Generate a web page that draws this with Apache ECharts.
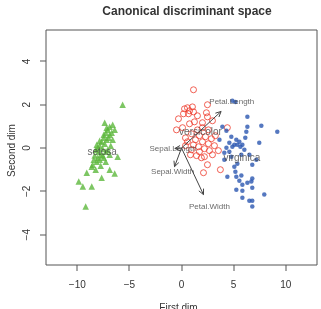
<!DOCTYPE html>
<html>
<head>
<meta charset="utf-8">
<script src="https://cdn.jsdelivr.net/npm/echarts@6/dist/echarts.min.js"></script>
<style>
  html, body { margin: 0; padding: 0; background: #fff; }
  #chart { width: 321px; height: 309px; }
</style>
</head>
<body>
<div id="chart"></div>
<script>
// canonical scores
const setosa = [
  [-5.65, 2.00], [-7.37, 1.17], [-6.60, 1.07], [-6.89, 0.98], [-6.12, -0.40],
  [-8.61, -0.86], [-9.09, -1.14], [-6.89, -1.00], [-6.41, -1.18], [-7.66, -1.37],
  [-9.86, -1.55], [-9.47, -1.78], [-8.61, -1.78], [-9.19, -2.70], [-7.08, 0.84],
  [-7.27, 0.71], [-6.89, 0.61], [-7.46, 0.47], [-7.18, 0.38], [-7.66, 0.29],
  [-7.37, 0.20], [-7.85, 0.11], [-8.04, 0.01], [-7.56, -0.03], [-8.23, -0.08],
  [-7.94, -0.17], [-7.75, -0.31], [-8.33, -0.35], [-8.04, -0.45], [-8.42, -0.54],
  [-8.13, -0.63], [-7.85, -0.54], [-7.46, -0.45], [-7.08, -0.08], [-6.79, 0.11],
  [-6.60, 0.38], [-6.99, 0.47], [-6.70, 0.71], [-6.41, 0.84], [-7.85, 0.34],
  [-8.13, 0.15], [-7.27, -0.17], [-8.52, -0.77], [-7.75, -0.82], [-8.23, -1.00],
  [-7.27, -0.63], [-6.89, -0.31], [-7.46, 0.61], [-7.18, 0.94], [-7.56, -0.35]
];
const versicolor = [
  [1.15, 2.69], [0.57, 1.86], [1.05, 1.90], [0.29, 1.81], [0.77, 1.72],
  [1.15, 1.67], [0.19, 1.58], [0.67, 1.58], [2.49, 2.00], [2.39, 1.63],
  [2.49, 1.44], [-0.29, 1.35], [1.24, 1.21], [2.01, 1.17], [0.77, 1.12],
  [-0.48, 0.84], [4.40, 0.94], [2.01, 0.94], [1.53, 0.84], [2.58, 0.84],
  [0.96, 0.66], [1.72, 0.57], [2.30, 0.52], [2.87, 0.43], [1.34, 0.38],
  [2.01, 0.29], [0.57, 0.29], [2.58, 0.20], [1.15, 0.15], [1.63, 0.06],
  [3.16, 0.11], [0.38, 0.11], [2.20, -0.03], [2.68, -0.12], [3.54, -0.12],
  [0.96, -0.08], [1.72, -0.17], [2.97, -0.31], [1.44, -0.35], [2.20, -0.40],
  [1.91, -0.45], [2.49, -0.77], [3.73, -1.00], [2.11, -1.14], [0.38, 0.47],
  [2.97, 1.26], [1.53, 1.49], [3.25, 0.57], [0.86, -0.31], [0.10, 0.94]
];
const virginica = [
  [4.88, 2.18], [5.17, 2.13], [6.32, 1.44], [7.66, 1.03], [9.19, 0.75],
  [6.32, 0.98], [6.22, 0.75], [3.92, 0.98], [4.78, 0.52], [5.26, 0.38],
  [5.55, 0.29], [5.36, 0.15], [5.84, 0.15], [5.07, 0.15], [7.46, 0.24],
  [4.59, 0.24], [4.31, 0.01], [4.88, 0.06], [5.65, 0.06], [4.11, -0.22],
  [4.78, -0.40], [4.11, -0.54], [5.74, -0.31], [6.51, -0.31], [7.18, -0.54],
  [5.07, -0.86], [5.36, -0.72], [6.79, -0.77], [4.40, -1.32], [5.26, -1.32],
  [5.74, -1.27], [5.55, -1.51], [5.84, -1.69], [6.32, -1.60], [6.70, -1.55],
  [6.79, -1.83], [6.79, -1.41], [5.26, -1.92], [5.84, -1.97], [7.94, -2.15],
  [5.84, -2.29], [6.51, -2.43], [6.79, -2.43], [6.79, -2.70], [3.64, 0.38],
  [6.03, -0.08], [4.59, -0.17], [6.12, 0.47], [5.17, -1.09], [4.31, 0.80]
];

// variable vectors (arrows from origin)
const vectorNames = ['Sepal.Length', 'Sepal.Width', 'Petal.Length', 'Petal.Width'];
const vectorX = [-0.64, -0.67, 3.80, 2.11];
const vectorY = [-0.02, -0.86, 1.69, -2.15];
const labelScale = 1.27;

// group centroids / labels
const groupNames = ['setosa', 'versicolor', 'virginica'];
const groupX = [-7.61, 1.82, 5.79];
const groupY = [-0.20, 0.72, -0.49];

const xTicks = [-10, -5, 0, 5, 10];
const yTicks = [-4, -2, 0, 2, 4];
// plot box (R's usr region)
const boxXMin = -13, boxXMax = 13, boxYMin = -5.4, boxYMax = 5.45;

const minus = v => String(v).replace('-', '\u2212');
const font = 'Liberation Sans, Arial, Helvetica, sans-serif';
const axisColor = '#555';

// the grid is widened by the tick length so the outside ticks stay inside it
const tickLen = 6;
const boxW = 271, boxH = 235;
const gridXMin = boxXMin - tickLen * (boxXMax - boxXMin) / boxW;
const gridYMin = boxYMin - tickLen * (boxYMax - boxYMin) / boxH;

const chart = echarts.init(document.getElementById('chart'));

const option = {
  animation: false,
  title: {
    text: 'Canonical discriminant space',
    left: 182,
    top: 1,
    textAlign: 'center',
    textStyle: { fontSize: 12, fontWeight: 'bold', color: '#333', fontFamily: font }
  },
  grid: {
    left: 46 - tickLen, right: 4, top: 30, bottom: 44 - tickLen,
    outerBoundsMode: 'none', containLabel: false, show: false
  },
  xAxis: {
    type: 'value', min: gridXMin, max: boxXMax, position: 'bottom',
    name: 'First dim', nameLocation: 'middle', nameGap: 32,
    nameTextStyle: { fontSize: 10, color: '#333', fontFamily: font },
    axisLine: { show: false, onZero: false },
    splitLine: { show: false },
    axisTick: { show: false },
    axisLabel: { fontSize: 10, color: '#333', margin: 9, fontFamily: font,
      customValues: xTicks, formatter: minus }
  },
  yAxis: {
    type: 'value', min: gridYMin, max: boxYMax, position: 'left',
    name: 'Second dim', nameLocation: 'middle', nameGap: 23, nameMoveOverlap: false,
    nameTextStyle: { fontSize: 10, color: '#333', fontFamily: font },
    axisLine: { show: false, onZero: false },
    splitLine: { show: false },
    axisTick: { show: false },
    axisLabel: { fontSize: 10, color: '#333', margin: 8, rotate: 90, fontFamily: font,
      customValues: yTicks, formatter: minus }
  },
  series: [
    {
      // plot box plus R-style outside tick marks
      type: 'custom', silent: true,
      data: [[boxXMin, boxYMin, boxXMax, boxYMax]],
      renderItem: function (params, api) {
        const a = api.coord([api.value(0), api.value(3)]);
        const b = api.coord([api.value(2), api.value(1)]);
        const children = [{
          type: 'rect',
          shape: { x: a[0], y: a[1], width: b[0] - a[0], height: b[1] - a[1] },
          style: { stroke: axisColor, lineWidth: 1, fill: null }
        }];
        xTicks.forEach(function (v) {
          const p = api.coord([v, api.value(1)]);
          children.push({
            type: 'rect',
            shape: { x: Math.round(p[0]) - 0.5, y: b[1], width: 1, height: tickLen },
            style: { fill: axisColor }
          });
        });
        yTicks.forEach(function (v) {
          const p = api.coord([api.value(0), v]);
          children.push({
            type: 'rect',
            shape: { x: a[0] - tickLen, y: Math.round(p[1]) - 0.5, width: tickLen, height: 1 },
            style: { fill: axisColor }
          });
        });
        return { type: 'group', children: children };
      }
    },
    {
      name: 'setosa', type: 'scatter', data: setosa,
      symbol: 'triangle', symbolSize: 6.5,
      itemStyle: { color: '#5cb83c' }
    },
    {
      name: 'versicolor', type: 'scatter', data: versicolor,
      symbol: 'circle', symbolSize: 6,
      itemStyle: { color: 'rgba(0,0,0,0)', borderColor: '#ee3b2c', borderWidth: 1 }
    },
    {
      name: 'virginica', type: 'scatter', data: virginica,
      symbol: 'circle', symbolSize: 4.5,
      itemStyle: { color: '#2a56b0' }
    },
    {
      // arrows with open heads, like R's arrows()
      type: 'custom',
      data: vectorX.map((x, i) => [x, vectorY[i]]),
      renderItem: function (params, api) {
        const o = api.coord([0, 0]);
        const e = api.coord([api.value(0), api.value(1)]);
        const ang = Math.atan2(e[1] - o[1], e[0] - o[0]);
        const len = 6, spread = 0.45;
        const p1 = [e[0] - len * Math.cos(ang - spread), e[1] - len * Math.sin(ang - spread)];
        const p2 = [e[0] - len * Math.cos(ang + spread), e[1] - len * Math.sin(ang + spread)];
        const style = { stroke: '#444', lineWidth: 1, fill: null };
        return {
          type: 'group',
          children: [
            { type: 'line', shape: { x1: o[0], y1: o[1], x2: e[0], y2: e[1] }, style: style },
            { type: 'polyline', shape: { points: [p1, e, p2] }, style: style }
          ]
        };
      },
      z: 5
    },
    {
      // variable names
      type: 'scatter', symbolSize: 0,
      data: vectorX.map((x, i) => ({ value: [x * labelScale, vectorY[i] * labelScale], name: vectorNames[i] })),
      label: {
        show: true, position: 'inside', formatter: p => p.name,
        fontSize: 8, color: '#444', fontFamily: font
      },
      z: 6
    },
    {
      // group names
      type: 'scatter', symbolSize: 0,
      data: groupX.map((x, i) => ({ value: [x, groupY[i]], name: groupNames[i] })),
      label: {
        show: true, position: 'inside', formatter: p => p.name,
        fontSize: 10, color: '#444', fontFamily: font
      },
      z: 6
    }
  ]
};

chart.setOption(option);
</script>
</body>
</html>
